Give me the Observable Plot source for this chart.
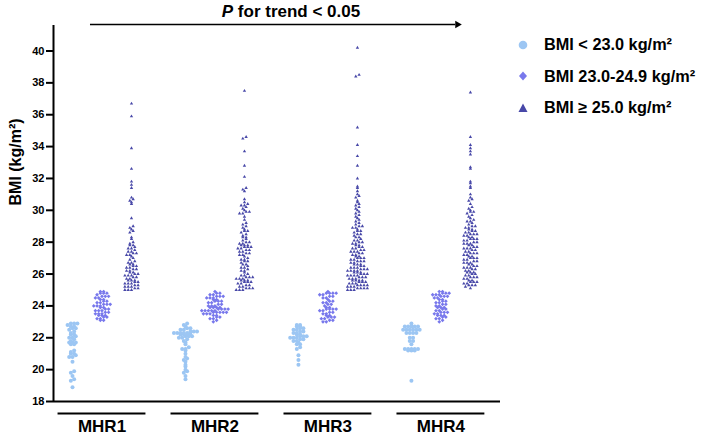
<!DOCTYPE html>
<html><head><meta charset="utf-8">
<script src="https://cdn.jsdelivr.net/npm/d3@7"></script>
<script src="https://cdn.jsdelivr.net/npm/@observablehq/plot@0.6"></script>
<style>
body{margin:0;background:#fff;font-family:"Liberation Sans",Arial,sans-serif;color:#000;}
#wrap{position:relative;width:708px;height:438px;overflow:hidden;}
#title{position:absolute;left:0;width:582px;top:2px;text-align:center;font-weight:bold;font-size:17px;line-height:20px;}
#legend{position:absolute;left:515px;top:29px;}
.row{display:flex;align-items:center;height:31.5px;font-weight:bold;font-size:16.3px;white-space:nowrap;}
.row svg{width:16px;height:16px;margin-right:13px;}
</style></head><body>
<div id="wrap"><div id="title"><i>P</i> for trend &lt; 0.05</div><div id="legend"></div></div>
<script>
const groups = ["MHR1", "MHR2", "MHR3", "MHR4"];
const bmiCats = ["BMI < 23.0 kg/m²", "BMI 23.0-24.9 kg/m²", "BMI ≥ 25.0 kg/m²"];
const catColors = ["#9cc6f3", "#7878ec", "#4848a8"];
const yTicks = [18, 20, 22, 24, 26, 28, 30, 32, 34, 36, 38, 40];
const yLabel = "BMI (kg/m²)";

const mhr1Low = [22.9,22.9,22.9,22.8,22.7,22.7,22.6,22.6,22.5,22.4,22.3,22.2,22.2,22.1,22.0,22.0,21.9,21.8,21.7,21.7,21.7,21.6,21.6,21.2,21.1,21.0,21.0,20.9,20.8,20.8,20.5,19.9,19.8,19.6,19.4,19.3,18.9];
const mhr1Mid = [24.9,24.9,24.8,24.8,24.8,24.7,24.6,24.6,24.5,24.5,24.4,24.4,24.3,24.3,24.2,24.2,24.1,24.1,24.0,24.0,24.0,23.9,23.9,23.8,23.8,23.7,23.7,23.6,23.6,23.5,23.5,23.5,23.4,23.4,23.3,23.3,23.2,23.2,23.1,23.1,24.6,24.1,23.7,23.4];
const mhr1High = [36.7,35.9,33.9,32.6,31.8,31.6,31.4,30.8,30.7,30.6,30.5,30.4,29.5,29.0,28.9,28.8,28.7,28.6,28.3,28.2,28.0,27.9,27.8,27.8,27.7,27.6,27.5,27.4,27.3,27.3,27.2,27.2,27.1,27.0,26.9,26.8,26.7,26.6,26.6,26.5,26.4,26.4,26.3,26.3,26.2,26.2,26.1,26.1,26.0,26.0,25.9,25.9,25.8,25.8,25.7,25.7,25.6,25.6,25.5,25.5,25.4,25.4,25.3,25.3,25.2,25.2,25.1,25.1,25.0,25.0,25.0,26.7,26.5,25.6,25.4,25.2,25.9,27.6,27.4];

const mhr2Low = [22.9,22.8,22.7,22.6,22.6,22.5,22.5,22.4,22.4,22.4,22.3,22.3,22.3,22.3,22.3,22.2,22.2,22.2,22.2,22.1,22.1,22.1,22.0,22.0,21.9,21.8,21.7,21.6,21.4,21.3,21.3,21.2,21.0,20.8,20.7,20.6,20.5,20.3,20.2,20.0,19.9,19.8,19.6,19.4];
const mhr2Mid = [24.9,24.8,24.8,24.7,24.7,24.6,24.6,24.5,24.5,24.5,24.4,24.4,24.3,24.3,24.2,24.2,24.1,24.1,24.0,24.0,24.0,23.9,23.9,23.9,23.8,23.8,23.8,23.8,23.7,23.7,23.7,23.7,23.7,23.6,23.6,23.6,23.6,23.5,23.5,23.5,23.4,23.4,23.3,23.3,23.2,23.2,23.1,23.0,24.6,24.3,23.9,23.6];
const mhr2High = [37.5,34.6,34.5,33.7,32.8,32.1,31.4,31.3,31.2,30.7,30.5,30.4,30.3,30.3,30.2,30.1,30.0,29.9,29.9,29.8,29.8,29.6,29.4,29.2,29.1,29.0,28.9,28.8,28.7,28.7,28.6,28.5,28.4,28.3,28.3,28.2,28.1,28.0,28.0,27.9,27.9,27.8,27.8,27.8,27.7,27.7,27.7,27.6,27.6,27.5,27.5,27.4,27.4,27.3,27.3,27.2,27.1,27.0,26.9,26.8,26.7,26.6,26.6,26.5,26.4,26.3,26.2,26.1,26.0,25.9,25.9,25.8,25.8,25.7,25.7,25.7,25.6,25.6,25.6,25.5,25.5,25.4,25.4,25.3,25.3,25.2,25.2,25.1,25.1,25.0,25.0,25.0,27.2,26.9,26.8,26.4,26.2,25.8,25.5,25.1];

const mhr3Low = [20.3,20.6,20.9,21.3,21.4,21.6,21.6,21.7,21.8,21.8,21.9,21.9,22.0,22.0,22.0,22.1,22.1,22.1,22.2,22.2,22.3,22.3,22.4,22.4,22.5,22.5,22.6,22.6,22.7,22.7,22.8,22.8];
const mhr3Mid = [24.9,24.8,24.8,24.8,24.8,24.7,24.7,24.6,24.5,24.5,24.4,24.3,24.3,24.2,24.1,24.1,24.0,23.9,23.9,23.8,23.8,23.8,23.8,23.7,23.7,23.6,23.5,23.5,23.4,23.4,23.3,23.3,23.3,23.2,23.2,23.1,23.1,23.0,23.0,24.6,24.2,23.6];
const mhr3High = [40.2,38.5,38.4,35.2,34.1,33.4,32.8,32.0,31.5,31.4,31.2,31.0,30.9,30.8,30.6,30.5,30.4,30.3,30.2,30.1,30.0,29.9,29.8,29.7,29.6,29.5,29.4,29.3,29.2,29.1,29.0,29.0,28.9,28.9,28.8,28.7,28.7,28.6,28.5,28.5,28.4,28.3,28.3,28.2,28.1,28.1,28.0,28.0,27.9,27.9,27.8,27.8,27.7,27.7,27.6,27.6,27.5,27.5,27.4,27.4,27.4,27.3,27.3,27.2,27.2,27.1,27.1,27.0,27.0,27.0,26.9,26.9,26.8,26.8,26.8,26.7,26.7,26.6,26.6,26.6,26.5,26.5,26.4,26.4,26.3,26.3,26.3,26.2,26.2,26.2,26.1,26.1,26.1,26.0,26.0,26.0,25.9,25.9,25.9,25.8,25.8,25.8,25.7,25.7,25.7,25.6,25.6,25.6,25.5,25.5,25.5,25.4,25.4,25.4,25.3,25.3,25.3,25.2,25.2,25.2,25.1,25.1,25.1,25.0,25.0,25.0,26.4,26.2,25.9,25.6,25.3,25.1];

const mhr4Low = [22.9,22.7,22.7,22.7,22.7,22.7,22.5,22.5,22.5,22.5,22.5,22.5,22.3,22.3,22.3,22.3,22.0,22.0,21.8,21.8,21.6,21.3,21.3,21.3,21.3,21.3,21.2,21.2,21.2,19.3];
const mhr4Mid = [24.9,24.9,24.8,24.8,24.8,24.7,24.7,24.7,24.6,24.6,24.6,24.5,24.5,24.4,24.4,24.3,24.3,24.2,24.1,24.1,24.0,24.0,23.9,23.9,23.8,23.8,23.7,23.7,23.6,23.6,23.5,23.5,23.4,23.4,23.4,23.3,23.3,23.2,23.2,23.1,23.0,24.2,23.9,23.6];
const mhr4High = [37.4,34.6,34.1,33.9,33.7,33.5,32.7,32.6,31.8,31.7,31.5,31.4,31.0,30.8,30.7,30.6,30.4,30.2,30.1,30.0,29.9,29.9,29.8,29.7,29.6,29.5,29.4,29.3,29.3,29.2,29.1,29.0,29.0,28.9,28.9,28.8,28.8,28.7,28.7,28.6,28.6,28.5,28.5,28.4,28.4,28.3,28.3,28.2,28.2,28.1,28.1,28.0,28.0,27.9,27.9,27.8,27.8,27.7,27.7,27.6,27.6,27.5,27.5,27.4,27.4,27.3,27.3,27.2,27.2,27.1,27.1,27.0,27.0,26.9,26.9,26.8,26.8,26.7,26.7,26.6,26.6,26.5,26.5,26.4,26.4,26.3,26.3,26.2,26.2,26.1,26.1,26.0,26.0,25.9,25.9,25.8,25.8,25.7,25.7,25.6,25.6,25.5,25.5,25.4,25.4,25.3,25.3,25.2,25.1,28.5,28.2,27.9,27.6,27.3,27.0,26.7,26.4,26.1,25.8,25.5,25.3];

const seriesValues = [
  [mhr1Low, mhr1Mid, mhr1High],
  [mhr2Low, mhr2Mid, mhr2High],
  [mhr3Low, mhr3Mid, mhr3High],
  [mhr4Low, mhr4Mid, mhr4High]
];

// layout
const W = 708, H = 438, mL = 53, mR = 208, mT = 25, mB = 37;
const xDom = [-0.644, 14.51], yDom = [18, 41.6];
const G = 3.83; // group spacing in slot units
const pxPerX = (W - mL - mR) / (xDom[1] - xDom[0]);
const pxPerY = (H - mT - mB) / (yDom[1] - yDom[0]);
const slot = (g, c) => g * G + c;

// Prism-like scatter: bin into rows and spread symmetrically
const rowH = 2.7, colW = 3.3;
const points = [];
seriesValues.forEach((cats, g) => cats.forEach((vals, c) => {
  const rows = d3.group(vals.slice().sort((a, b) => a - b), v => Math.round(v * pxPerY / rowH));
  for (const [, rv] of rows) {
    rv.forEach((v, i) => {
      const off = (i - (rv.length - 1) / 2) * colW;
      points.push({group: groups[g], cat: c, x: slot(g, c) + off / pxPerX, y: v});
    });
  }
}));

const lastSlot = slot(groups.length - 1, 2);

const chart = Plot.plot({
  width: W, height: H,
  marginLeft: mL, marginRight: mR, marginTop: mT, marginBottom: mB,
  x: {domain: xDom, axis: null},
  y: {domain: yDom, axis: null},
  style: {fontFamily: "'Liberation Sans', Arial, sans-serif", color: "#000", background: "#fff", overflow: "visible"},
  marks: [
    Plot.axisY({ticks: yTicks, tickSize: 7, tickPadding: 2, strokeWidth: 2, label: null, fontSize: 11, fontWeight: "bold"}),
    Plot.ruleX([xDom[0]], {y1: 18, y2: yDom[1], strokeWidth: 2}),
    Plot.ruleY([18], {strokeWidth: 2}),
    Plot.text([yLabel], {frameAnchor: "left", rotate: -90, dx: -38, dy: -8, fontSize: 16, fontWeight: "bold"}),
    Plot.dot(points.filter(d => d.cat === 0), {x: "x", y: "y", r: 2, fill: catColors[0], symbol: "circle"}),
    Plot.dot(points.filter(d => d.cat === 1), {x: "x", y: "y", r: 1.7, fill: catColors[1], symbol: "diamond2"}),
    Plot.dot(points.filter(d => d.cat === 2), {x: "x", y: "y", r: 1.6, fill: catColors[2], symbol: "triangle2"}),
    Plot.ruleY(groups, {y: () => 18, x1: (d, i) => slot(i, 1) - 1.49, x2: (d, i) => slot(i, 1) + 1.49, dy: 12, strokeWidth: 2}),
    Plot.text(groups, {x: (d, i) => slot(i, 1), frameAnchor: "bottom", lineAnchor: "middle", dy: 25, fontSize: 17, fontWeight: "bold"}),
    Plot.ruleY([yDom[1]], {x1: slot(0, 0) + 0.61, x2: lastSlot - 0.5, dy: -1, strokeWidth: 1.5}),
    Plot.dot([0], {x: () => lastSlot - 0.44, y: () => yDom[1], dy: -1, r: 3.6, symbol: "triangle2", rotate: 90, fill: "#000"})
  ]
});
document.getElementById("wrap").prepend(chart);

// legend
const legend = document.getElementById("legend");
const shapes = [
  c => `<circle cx="8" cy="8" r="4.3" fill="${c}"/>`,
  c => `<polygon points="8,3.5 12,8 8,12.5 4,8" fill="${c}"/>`,
  c => `<polygon points="8,3.5 12.5,12 3.5,12" fill="${c}"/>`
];
bmiCats.forEach((label, i) => {
  const row = document.createElement("div");
  row.className = "row";
  row.innerHTML = `<svg viewBox="0 0 16 16">${shapes[i](catColors[i])}</svg><span>${label}</span>`;
  legend.appendChild(row);
});
</script>
</body></html>
